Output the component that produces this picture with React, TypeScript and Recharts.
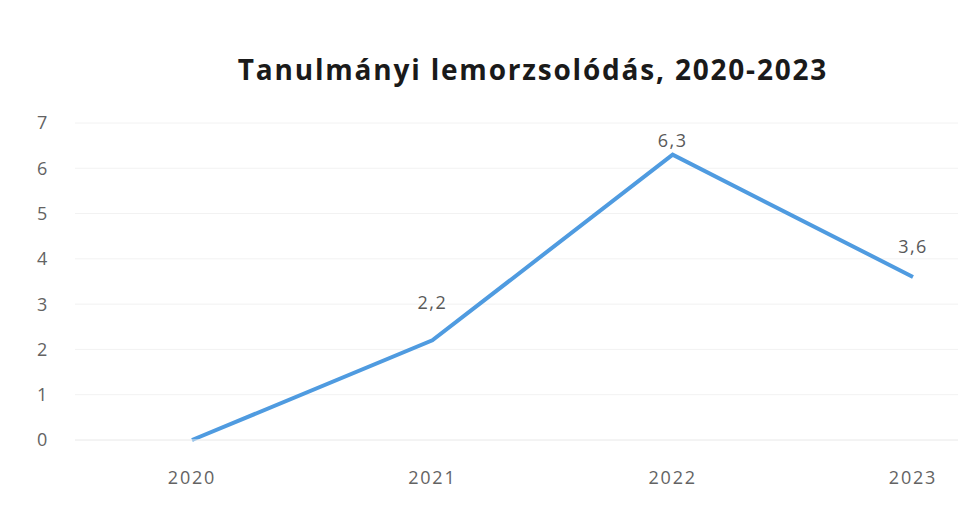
import React from 'react'
import {CartesianGrid, LabelList, Line, LineChart, XAxis, YAxis} from 'recharts'

const years = ['2020', '2021', '2022', '2023']
const dropout = [0, 2.2, 6.3, 3.6]
const yTicks = [0, 1, 2, 3, 4, 5, 6, 7]

const data = years.map((year, i) => ({year, value: dropout[i]}))

// label lift above each point, roughly like the original
const labelLift = [0, 31, 8, 24]

const tickFont = {fill: '#636363', fontSize: 18, fontFamily: "'Open Sans', sans-serif", letterSpacing: 1.8}

const renderLabel = (props: any) => {
    const {x, y, value, index} = props
    if (!value) return null
    return (
        <text x={x} y={y - labelLift[index]} textAnchor="middle" fill="#595959"
              fontSize={18} fontFamily="'Open Sans', sans-serif" letterSpacing={1.5}>
            {String(value).replace('.', ',')}
        </text>
    )
}

const App = () => {
    return (
        <div style={{position: 'relative', width: 959, height: 493, background: '#fff'}}>
            <div style={{
                position: 'absolute', top: 42, left: 0, width: 1050, textAlign: 'center',
                fontFamily: "'Open Sans', sans-serif", fontWeight: 700, fontSize: 28,
                letterSpacing: 1.8, color: '#1a1a1a'
            }}>
                Tanulmányi lemorzsolódás, 2020-2023
            </div>
            <LineChart width={959} height={493} data={data}
                       margin={{top: 115, right: 9, bottom: 0, left: 0}}>
                <CartesianGrid vertical={false} stroke="#f2f2f2" />
                <XAxis dataKey="year" tickLine={false} axisLine={{stroke: '#eeeeee'}}
                       padding={{left: 117, right: 45}} tickMargin={25} height={61}
                       tick={tickFont} />
                <YAxis domain={[0, 7]} ticks={yTicks} tickLine={false} axisLine={false}
                       width={67} tickMargin={20}
                       tick={tickFont} />
                <Line type="linear" dataKey="value" stroke="#4f9be0" strokeWidth={4}
                      dot={false} isAnimationActive={false}>
                    <LabelList dataKey="value" content={renderLabel} />
                </Line>
            </LineChart>
        </div>
    )
}

export default App
